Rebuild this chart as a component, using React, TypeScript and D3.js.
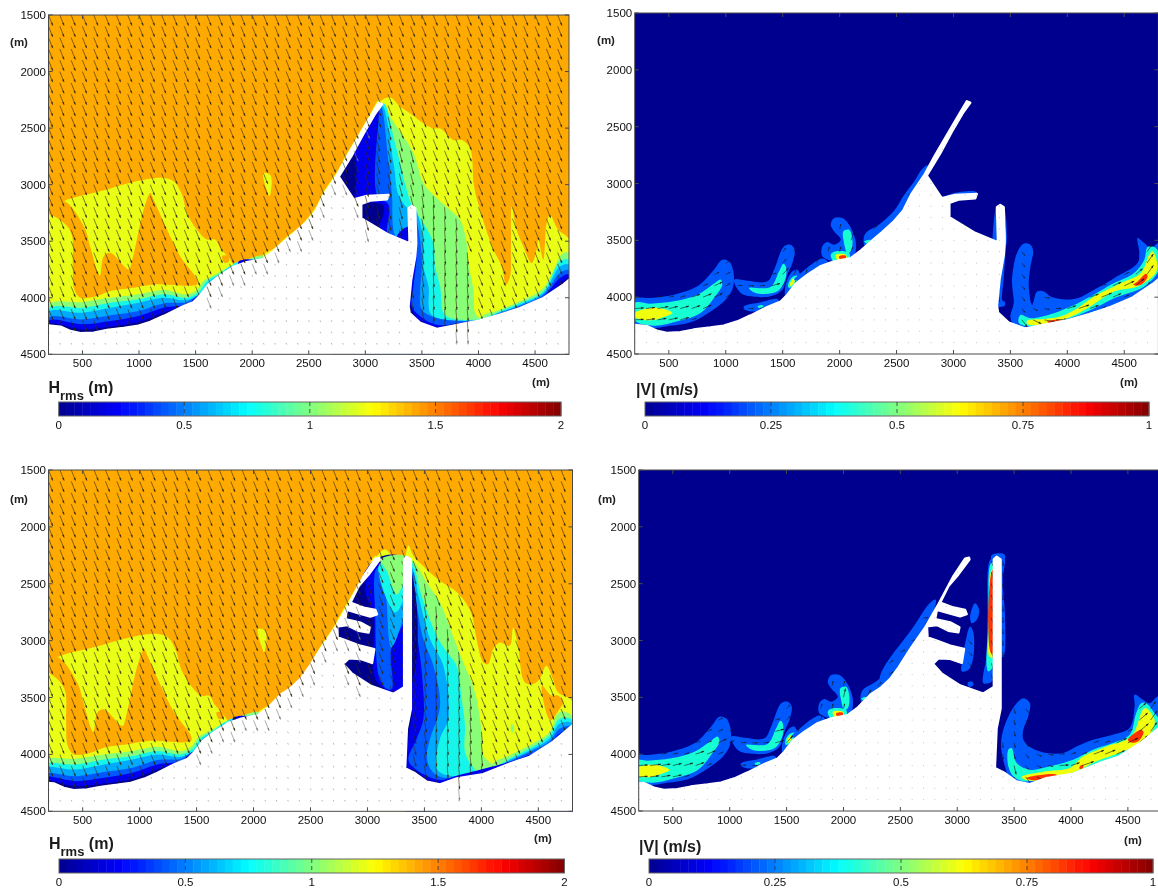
import React from "react";
import * as d3 from "d3";

type Pt = [number, number];
type Layer = [string, Pt[]];

const xTicks = [500, 1000, 1500, 2000, 2500, 3000, 3500, 4000, 4500];
const yTicks = [1500, 2000, 2500, 3000, 3500, 4000, 4500];
const hrmsTicks = [0, 0.5, 1, 1.5, 2];
const speedTicks = [0, 0.25, 0.5, 0.75, 1];
const jetStops = [0, 0.125, 0.375, 0.625, 0.875, 1];
const jetColors = ["#00008f", "#0000ff", "#00ffff", "#ffff00", "#ff0000", "#800000"];

const ORANGE = "#ffaa00";
const YELLOW = "#e9ff16";
const GREEN = "#88ff77";
const CYAN = "#19f5ea";
const SKY = "#00aaff";
const MID = "#0058ff";
const BLUE = "#0000ee";
const NAVY = "#00008f";
const V_BLUE = "#0058ff";
const V_CYAN = "#19ffd2";
const V_YELLOW = "#f0ff10";
const V_RED = "#ff3000";

// wave direction, px offset per arrow, inside the diffracted zone
const shelterX = [200, 3400, 3600, 4000, 4300, 4800];
const shelterDx = [4, 3, 0.8, 1.2, 3, 4];
// stretches of shore where wave arrows still show on the land
const shoreSpans: Pt[] = [[1550, 3000], [3780, 3900]];
// current direction along the coast, degrees on screen
const flowX = [200, 1000, 1150, 1400, 1550, 1950, 2100, 3450, 3700, 4000, 4500, 4800];
const flowDeg = [-4, -28, 5, -15, -65, -80, -70, 90, 25, -18, -25, -70];

const shift = (pts: Pt[], dx: number): Pt[] => pts.map(([x, y]) => [x + dx, y] as Pt);

// shore west of the first jetty, shared by the wave and current panels
const coastWest: Pt[] = [[200, 4245], [306, 4255], [394, 4294], [482, 4314], [600, 4308], [718, 4285], [865, 4267], [982, 4250], [1100, 4214], [1217, 4161], [1364, 4088], [1482, 4038], [1541, 3979], [1614, 3882], [1717, 3803], [1835, 3726], [1952, 3685], [2099, 3656], [2188, 3588]];

const landTop: Pt[] = [...coastWest, [2305, 3485], [2368, 3432], [2470, 3341], [2559, 3238], [2632, 3091], [2750, 2915], [2838, 2753], [2941, 2577], [3044, 2400], [3117, 2277], [3147, 2289], [3088, 2371], [2985, 2547], [2882, 2738], [2765, 2930], [2897, 3130], [3014, 3100], [3205, 3091], [3191, 3130], [3044, 3141], [2964, 3171], [2964, 3297], [3191, 3435], [3391, 3518], [3382, 3209], [3411, 3188], [3441, 3209], [3450, 3518], [3441, 3635], [3405, 3841], [3382, 4076], [3391, 4135], [3485, 4223], [3632, 4276], [3779, 4247], [4014, 4200], [4190, 4150], [4367, 4091], [4573, 4003], [4749, 3885], [4802, 3841], [4802, 4500], [200, 4500]];

const landBottom: Pt[] = [...shift(coastWest, -60), [2238, 3476], [2325, 3418], [2413, 3336], [2486, 3234], [2588, 3074], [2719, 2884], [2836, 2680], [2967, 2433], [3069, 2281], [3104, 2272], [3107, 2287], [3010, 2418], [2923, 2520], [2865, 2637], [2850, 2666], [2967, 2710], [3069, 2730], [3083, 2768], [3025, 2788], [2923, 2759], [2821, 2730], [2806, 2812], [2938, 2841], [3019, 2884], [3010, 2928], [2923, 2914], [2821, 2864], [2734, 2876], [2739, 2972], [2821, 3001], [2938, 3045], [3060, 3074], [3040, 3196], [2938, 3161], [2836, 3156], [2786, 3205], [2865, 3292], [3025, 3395], [3229, 3467], [3322, 3409], [3322, 2287], [3346, 2264], [3381, 2287], [3381, 3599], [3346, 3774], [3331, 4123], [3419, 4167], [3521, 4240], [3637, 4263], [3783, 4211], [4016, 4173], [4249, 4080], [4424, 4021], [4628, 3890], [4803, 3744], [4803, 4500], [140, 4500]];

// wave height bands west of the jetty
const westYellow: Pt[] = [[200, 3250], [335, 3147], [659, 3059], [953, 2976], [1217, 2941], [1306, 2971], [1379, 3088], [1423, 3250], [1511, 3397], [1600, 3485], [1673, 3485], [1717, 3559], [1791, 3647], [1835, 3720], [1835, 4400], [200, 4400]];
const westOrange: Pt[] = [[200, 3250], [277, 3294], [365, 3368], [409, 3456], [415, 3720], [429, 3926], [482, 4000], [629, 3985], [747, 3941], [953, 3911], [1129, 3882], [1511, 3882], [1511, 3838], [1364, 3632], [1247, 3397], [1129, 3132], [1100, 3074], [1041, 3220], [938, 3676], [909, 3750], [747, 3603], [688, 3632], [653, 3803], [571, 3559], [512, 3368], [335, 3147]];
const westSpot: Pt[] = [[1735, 3630], [1780, 3630], [1795, 3680], [1755, 3690]];
const offshorePatch: Pt[] = [[2099, 2897], [2158, 2912], [2173, 2970], [2152, 3103], [2129, 3044], [2105, 2970]];
const westGreen: Pt[] = [[200, 4058], [500, 4038], [747, 4000], [997, 3970], [1217, 3932], [1423, 3970], [1511, 3932], [1570, 3853], [1688, 3785], [1835, 3706], [1952, 3662], [2129, 3638], [2129, 4400], [200, 4400]];
const westCyan: Pt[] = [[200, 4097], [500, 4088], [747, 4044], [997, 4014], [1217, 3970], [1423, 4000], [1526, 3950], [1600, 3853], [1717, 3785], [1835, 3714], [1835, 4400], [200, 4400]];
const westSky: Pt[] = [[200, 4126], [500, 4132], [747, 4088], [997, 4044], [1217, 4000], [1423, 4020], [1541, 3961], [1614, 3861], [1717, 3794], [1835, 3726], [1835, 4400], [200, 4400]];
const westMid: Pt[] = [[200, 4176], [500, 4191], [747, 4155], [997, 4117], [1217, 4050], [1423, 4038], [1541, 3979], [1541, 4400], [200, 4400]];
const westBlue: Pt[] = [[200, 4205], [500, 4235], [747, 4205], [997, 4161], [1217, 4088], [1423, 4058], [1541, 3979], [1541, 4400], [200, 4400]];
const westNavy: Pt[] = [[200, 4235], [500, 4280], [747, 4255], [997, 4215], [1217, 4130], [1423, 4065], [1541, 3985], [1541, 4400], [200, 4400]];
const jettyYellow: Pt[] = [[2100, 3620], [2200, 3560], [2300, 3465], [2420, 3375], [2470, 3320], [2559, 3205], [2632, 3060], [2750, 2885], [2838, 2725], [2941, 2550], [3044, 2375], [3117, 2255], [3150, 2270], [3044, 2500], [2800, 2900], [2500, 3400], [2200, 3700], [2100, 3700]];
const jettyCyan: Pt[] = [[1835, 3705], [1952, 3668], [2100, 3640], [2188, 3575], [2305, 3475], [2400, 3400], [2470, 3335], [2500, 3400], [2300, 3600], [1900, 3800]];
const jettyBlue: Pt[] = [[1880, 3680], [1950, 3660], [2010, 3665], [2050, 3672], [2000, 3720], [1880, 3720]];

const westLayers: Layer[] = [[YELLOW, westYellow], [ORANGE, westOrange], [ORANGE, westSpot], [YELLOW, offshorePatch], [GREEN, westGreen], [CYAN, westCyan], [SKY, westSky], [MID, westMid], [BLUE, westBlue], [NAVY, westNavy], [CYAN, jettyCyan], [BLUE, jettyBlue]];

// wave height bands, top pair: harbour and east shore
const topYellow: Pt[] = [[3132, 2268], [3220, 2230], [3308, 2312], [3397, 2371], [3514, 2459], [3602, 2503], [3661, 2503], [3779, 2606], [3852, 2606], [3926, 2680], [3961, 3018], [4014, 3224], [4088, 3459], [4132, 3576], [4205, 3723], [4243, 3885], [4279, 3812], [4287, 3547], [4293, 3194], [4337, 3400], [4396, 3547], [4470, 3694], [4514, 3576], [4529, 3488], [4573, 3665], [4602, 3341], [4631, 3268], [4705, 3400], [4802, 3488], [4802, 4500], [3000, 4500], [3000, 2800]];
const topGreen: Pt[] = [[3161, 2283], [3220, 2400], [3338, 2577], [3426, 2724], [3514, 2988], [3602, 3091], [3749, 3224], [3838, 3312], [3896, 3518], [3911, 3694], [3955, 3929], [3970, 4135], [4014, 4194], [4014, 4400], [3000, 4400], [3000, 2800]];
const topGreenRim: Pt[] = [[4014, 4180], [4190, 4106], [4367, 4032], [4573, 3914], [4720, 3635], [4749, 3606], [4802, 3606], [4802, 4500], [4014, 4500]];
const topCyan: Pt[] = [[3161, 2283], [3264, 2636], [3411, 3179], [3514, 3341], [3602, 3518], [3617, 3723], [3661, 3900], [3691, 4135], [3749, 4179], [4014, 4188], [4190, 4120], [4367, 4047], [4573, 3944], [4720, 3679], [4802, 3665], [4802, 4500], [3000, 4500], [3000, 2800]];
const topSky: Pt[] = [[3147, 2298], [3250, 2812], [3294, 3091], [3382, 3209], [3426, 3194], [3485, 3341], [3514, 3547], [3514, 3723], [3558, 3900], [3573, 4135], [3661, 4188], [4014, 4194], [4190, 4129], [4367, 4062], [4573, 3959], [4720, 3723], [4802, 3709], [4802, 4500], [3000, 4500], [3000, 2800]];
const topMid: Pt[] = [[3132, 2298], [3206, 2812], [3235, 3091], [3264, 3453], [3367, 3547], [3441, 3547], [3441, 3282], [3470, 3400], [3500, 3665], [3485, 3959], [3500, 4106], [3632, 4179], [4014, 4197], [4190, 4135], [4367, 4070], [4573, 3973], [4720, 3782], [4802, 3759], [4802, 4500], [3000, 4500], [3000, 2800]];
const topBlue: Pt[] = [[3117, 2312], [3103, 3091], [3206, 3180], [3191, 3426], [3220, 3488], [3426, 3547], [3450, 3576], [3426, 3900], [3411, 4076], [3485, 4164], [3632, 4238], [4014, 4200], [4190, 4141], [4367, 4082], [4573, 3988], [4720, 3826], [4802, 3797], [4802, 4500], [2700, 4500], [2760, 2930], [2875, 2735], [2975, 2545], [3095, 2350]];
const topBluePatch: Pt[] = [[3294, 3429], [3391, 3371], [3411, 3547], [3279, 3488]];
const topNavyWedge: Pt[] = [[2765, 2930], [2903, 2739], [2891, 3121]];
const topNavyBasin: Pt[] = [[2964, 3171], [3161, 3188], [3103, 3371], [2985, 3312]];
const topNavyRim: Pt[] = [[3382, 4017], [3411, 4106], [3485, 4208], [3632, 4258], [3779, 4229], [4014, 4198], [4190, 4144], [4367, 4088], [4573, 3994], [4749, 3856], [4802, 3817], [4802, 4500], [3382, 4500]];

const hrmsTop: Layer[] = [...westLayers, [YELLOW, jettyYellow], [YELLOW, topYellow], [GREEN, topGreen], [GREEN, topGreenRim], [CYAN, topCyan], [SKY, topSky], [MID, topMid], [BLUE, topBlue], [BLUE, topBluePatch], [NAVY, topNavyWedge], [NAVY, topNavyBasin], [NAVY, topNavyRim]];

// wave height bands, bottom pair: longer breakwater and groynes
const botYellow: Pt[] = [[3069, 2281], [3156, 2199], [3214, 2258], [3287, 2331], [3331, 2258], [3360, 2164], [3404, 2258], [3491, 2345], [3637, 2476], [3754, 2549], [3841, 2637], [3914, 2768], [3958, 2987], [4016, 3191], [4060, 3205], [4104, 3074], [4162, 3016], [4249, 3045], [4279, 2884], [4322, 3045], [4381, 3365], [4454, 3380], [4512, 3336], [4570, 3220], [4628, 3336], [4672, 3453], [4803, 3540], [4803, 4500], [3000, 4500], [3000, 2800]];
const botOrangeFinger: Pt[] = [[4532, 3395], [4605, 3701], [4687, 3599], [4722, 3540], [4672, 3482], [4614, 3482]];
const botGreen: Pt[] = [[3389, 2287], [3521, 2491], [3637, 2666], [3739, 2928], [3841, 3191], [3944, 3453], [4002, 3803], [4016, 4007], [4089, 4094], [4089, 4500], [3340, 4500], [3340, 2287]];
const botGreenRim: Pt[] = [[4089, 4094], [4249, 4007], [4424, 3919], [4599, 3803], [4657, 3657], [4710, 3622], [4803, 3672], [4803, 4500], [4089, 4500]];
const botGreenSpot: Pt[] = [[4262, 3740], [4280, 3740], [4285, 3800], [4265, 3805]];
const botCyan: Pt[] = [[3389, 2316], [3477, 2608], [3608, 2957], [3710, 3118], [3783, 3220], [3827, 3511], [3856, 3744], [3856, 3978], [3914, 4094], [3987, 4167], [4104, 4123], [4249, 4036], [4424, 3948], [4599, 3832], [4687, 3686], [4803, 3701], [4803, 4500], [3340, 4500], [3340, 2316]];
const botSky: Pt[] = [[3389, 2360], [3448, 2608], [3550, 2987], [3666, 3220], [3710, 3686], [3637, 3861], [3608, 4123], [3696, 4182], [3987, 4176], [4249, 4050], [4424, 3966], [4599, 3861], [4687, 3730], [4803, 3730], [4803, 4500], [3340, 4500], [3340, 2360]];
const botMid: Pt[] = [[3389, 2404], [3419, 2608], [3491, 2987], [3579, 3220], [3637, 3570], [3550, 3861], [3521, 4007], [3550, 4123], [3637, 4196], [3987, 4182], [4249, 4059], [4424, 3978], [4599, 3884], [4687, 3774], [4803, 3759], [4803, 4500], [3340, 4500], [3340, 2404]];
const botBlue: Pt[] = [[3384, 2695], [3439, 2987], [3477, 3278], [3491, 3686], [3433, 3861], [3360, 4051], [3433, 4138], [3521, 4188], [3637, 4225], [3783, 4187], [4249, 4065], [4424, 4001], [4599, 3914], [4687, 3817], [4803, 3788], [4803, 4500], [3340, 4500], [3340, 2695]];
const botNavyRim: Pt[] = [[3381, 3599], [3360, 3861], [3346, 4109], [3433, 4147], [3521, 4217], [3637, 4249], [3783, 4205], [4016, 4167], [4249, 4071], [4424, 4013], [4599, 3934], [4716, 3817], [4803, 3774], [4803, 4500], [3320, 4500], [3320, 3599]];
const basinNavy: Pt[] = [[2725, 3500], [2725, 2880], [2800, 2790], [2880, 2600], [3075, 2280], [3331, 2280], [3331, 3500]];
const basinBlue: Pt[] = [[3078, 2316], [2981, 2549], [3054, 2783], [3054, 3278], [3098, 3380], [3244, 3467], [3331, 3409], [3331, 2549]];
const basinMid: Pt[] = [[3089, 2360], [3069, 2783], [3107, 3336], [3171, 3424], [3215, 3424], [3209, 3074], [3331, 2797], [3331, 2549]];
const basinSky: Pt[] = [[3098, 2345], [3156, 2549], [3209, 3059], [3331, 2710], [3331, 2287]];
const basinCyan: Pt[] = [[3104, 2331], [3244, 2753], [3331, 2578], [3331, 2287]];
const basinGreen: Pt[] = [[3113, 2287], [3171, 2389], [3258, 2593], [3331, 2433], [3331, 2258]];

const hrmsBottom: Layer[] = [...westLayers.map(([c, p]) => [c, shift(p, -60)] as Layer), [YELLOW, shift(jettyYellow, -50)], [YELLOW, botYellow], [ORANGE, botOrangeFinger], [GREEN, botGreen], [GREEN, botGreenRim], [GREEN, botGreenSpot], [CYAN, botCyan], [SKY, botSky], [MID, botMid], [BLUE, botBlue], [NAVY, botNavyRim], [NAVY, basinNavy], [BLUE, basinBlue], [MID, basinMid], [SKY, basinSky], [CYAN, basinCyan], [GREEN, basinGreen]];

// current speed blobs west of the jetty
const lobeBig: Pt[] = [[200, 4016], [340, 4007], [545, 3978], [750, 3905], [896, 3758], [969, 3670], [1028, 3685], [1063, 3758], [1072, 3846], [1057, 3934], [999, 4022], [867, 4125], [691, 4221], [486, 4256], [369, 4271], [200, 4242]];
const lobeBend: Pt[] = [[1072, 3846], [1189, 3855], [1365, 3861], [1424, 3758], [1512, 3553], [1570, 3539], [1605, 3583], [1585, 3700], [1541, 3802], [1497, 3934], [1394, 3993], [1219, 3993], [1131, 3963]];
const lobeLow: Pt[] = [[1160, 4081], [1306, 4045], [1453, 4016], [1468, 4037], [1365, 4110], [1219, 4125], [1160, 4104]];
const lobeLowCyan: Pt[] = [[1280, 4080], [1320, 4070], [1330, 4085], [1290, 4095]];
const bigCyan: Pt[] = [[200, 4051], [340, 4057], [545, 4037], [750, 3978], [911, 3870], [955, 3846], [969, 3890], [896, 4007], [779, 4139], [574, 4212], [369, 4251], [200, 4204]];
const bigYellow: Pt[] = [[200, 4139], [340, 4095], [457, 4104], [530, 4139], [457, 4174], [340, 4204], [200, 4174]];
const bendCyan: Pt[] = [[1204, 3919], [1394, 3911], [1468, 3773], [1506, 3706], [1526, 3729], [1526, 3832], [1453, 3949], [1262, 3963]];
const knobBlue: Pt[] = [[1526, 3890], [1585, 3773], [1629, 3758], [1652, 3817], [1585, 3949], [1526, 3993]];
const knobCyan: Pt[] = [[1547, 3890], [1585, 3823], [1629, 3811], [1614, 3876], [1555, 3919]];
const knobYellow: Pt[] = [[1564, 3881], [1599, 3832], [1605, 3861], [1570, 3905]];
const shoreBlue: Pt[] = [[1600, 3850], [1680, 3770], [1850, 3660], [1900, 3700], [1700, 3830]];
const hookBlue: Pt[] = [[1922, 3363], [1951, 3304], [2024, 3304], [2083, 3363], [2141, 3509], [2127, 3641], [2083, 3670], [1951, 3685], [1848, 3641], [1848, 3553], [1892, 3515], [1951, 3539], [2010, 3495], [1951, 3421]];
const hookCyanA: Pt[] = [[2033, 3421], [2083, 3407], [2112, 3495], [2098, 3597], [2068, 3612], [2039, 3524]];
const hookCyanB: Pt[] = [[1922, 3626], [1966, 3597], [2083, 3612], [2083, 3670], [1951, 3685]];
const hookYellow: Pt[] = [[1966, 3626], [2054, 3626], [2062, 3665], [1980, 3670]];
const hookRed: Pt[] = [[1995, 3641], [2054, 3635], [2054, 3659], [2001, 3662]];
const rimBlue: Pt[] = [[2215, 3465], [2244, 3421], [2347, 3360], [2478, 3240], [2560, 3110], [2650, 2990], [2720, 2880], [2770, 2840], [2785, 2900], [2700, 3000], [2550, 3250], [2400, 3440], [2250, 3560], [2215, 3540]];
const rimCyan: Pt[] = [[2215, 3509], [2273, 3495], [2244, 3530]];

const westSpeed: Layer[] = [[V_BLUE, lobeBig], [V_BLUE, lobeBend], [V_BLUE, lobeLow], [V_CYAN, lobeLowCyan], [V_CYAN, bigCyan], [V_YELLOW, bigYellow], [V_CYAN, bendCyan], [V_BLUE, knobBlue], [V_CYAN, knobCyan], [V_YELLOW, knobYellow], [V_BLUE, shoreBlue], [V_BLUE, hookBlue], [V_CYAN, hookCyanA], [V_CYAN, hookCyanB], [V_YELLOW, hookYellow], [V_RED, hookRed]];

// current speed, top right panel
const topL: Pt[] = [[3514, 3847], [3558, 3612], [3617, 3530], [3676, 3539], [3700, 3597], [3676, 3730], [3661, 3906], [3691, 4068], [3735, 3950], [3794, 3950], [3852, 3994], [3955, 4018], [4088, 4009], [4235, 3935], [4411, 3833], [4617, 3700], [4632, 3612], [4617, 3480], [4676, 3524], [4735, 3568], [4802, 3524], [4805, 3847], [4705, 3950], [4470, 4068], [4264, 4127], [4000, 4200], [3705, 4274], [3617, 4282], [3529, 4244], [3500, 4171], [3529, 4053]];
const topLCyan: Pt[] = [[3588, 4156], [3676, 4185], [3882, 4141], [4029, 4082], [4176, 4009], [4382, 3891], [4587, 3788], [4676, 3671], [4705, 3559], [4764, 3559], [4805, 3612], [4805, 3759], [4676, 3906], [4411, 4009], [4205, 4112], [3970, 4200], [3647, 4253], [3573, 4224]];
const topLYellow: Pt[] = [[3647, 4206], [3794, 4191], [3955, 4165], [4088, 4097], [4235, 3994], [4470, 3877], [4646, 3788], [4720, 3627], [4749, 3597], [4793, 3730], [4764, 3803], [4617, 3906], [4411, 3950], [4176, 4097], [4000, 4185], [3735, 4244], [3647, 4235]];
const topLRedA: Pt[] = [[4617, 3862], [4690, 3794], [4705, 3818], [4646, 3891], [4579, 3891]];
const topLRedB: Pt[] = [[3823, 4215], [3941, 4200], [3941, 4221], [3838, 4229]];
const topPierBlue: Pt[] = [[3411, 3190], [3440, 3200], [3470, 3465], [3460, 3583], [3440, 3850], [3430, 4030], [3450, 4040], [3450, 4075], [3380, 4075], [3380, 3200]];
const topPierCyan: Pt[] = [[3440, 3310], [3460, 3450], [3455, 3500], [3445, 3500]];
const topBarBlue: Pt[] = [[2880, 3135], [3000, 3085], [3190, 3070], [3210, 3090], [3000, 3110]];

const speedTop: Layer[] = [...westSpeed, [V_BLUE, rimBlue], [V_CYAN, rimCyan], [V_BLUE, topL], [V_CYAN, topLCyan], [V_YELLOW, topLYellow], [V_RED, topLRedA], [V_RED, topLRedB], [V_BLUE, topPierBlue], [V_CYAN, topPierCyan], [V_BLUE, topBarBlue]];

// current speed, bottom right panel
const botL: Pt[] = [[3391, 3990], [3391, 3844], [3449, 3668], [3522, 3551], [3581, 3507], [3639, 3551], [3624, 3668], [3581, 3785], [3581, 3873], [3654, 3946], [3785, 3990], [3931, 3990], [4048, 3932], [4194, 3873], [4369, 3829], [4515, 3770], [4559, 3580], [4559, 3477], [4632, 3521], [4690, 3551], [4760, 3492], [4803, 3480], [4803, 3780], [4760, 3844], [4690, 3946], [4486, 4034], [4223, 4137], [4019, 4195], [3785, 4239], [3610, 4277], [3522, 4254], [3449, 4195], [3420, 4107]];
const botLCyan: Pt[] = [[3449, 3961], [3478, 3946], [3522, 4078], [3639, 4137], [3814, 4107], [4019, 4049], [4194, 3961], [4369, 3902], [4515, 3829], [4573, 3639], [4617, 3551], [4661, 3551], [4760, 3668], [4803, 3700], [4803, 3780], [4760, 3785], [4661, 3902], [4486, 3990], [4223, 4107], [4019, 4166], [3785, 4210], [3581, 4239], [3493, 4195], [3449, 4107]];
const botLYellow: Pt[] = [[3566, 4201], [3785, 4151], [3989, 4122], [4106, 4020], [4311, 3932], [4530, 3844], [4632, 3609], [4661, 3595], [4734, 3697], [4719, 3785], [4632, 3888], [4457, 3976], [4223, 4063], [4048, 4151], [3843, 4210], [3610, 4230]];
const botLRedA: Pt[] = [[3610, 4210], [3873, 4181], [3873, 4210], [3639, 4225]];
const botLRedB: Pt[] = [[4500, 3873], [4617, 3785], [4638, 3809], [4588, 3888], [4521, 3896]];
const botLRedC: Pt[] = [[4077, 4107], [4106, 4093], [4106, 4122], [4077, 4131]];
const pierBlue: Pt[] = [[3330, 2276], [3289, 2291], [3265, 2818], [3254, 3170], [3230, 3287], [3230, 3375], [3303, 3360], [3330, 3199]];
const pierCyan: Pt[] = [[3330, 2320], [3297, 2320], [3274, 2848], [3259, 3228], [3274, 3272], [3330, 3199]];
const pierYellow: Pt[] = [[3330, 2379], [3303, 2379], [3283, 2877], [3283, 3141], [3330, 3146]];
const pierRed: Pt[] = [[3330, 2379], [3309, 2379], [3297, 3111], [3330, 3111]];
const pierEast: Pt[] = [[3376, 2262], [3411, 2262], [3420, 2291], [3400, 2467], [3420, 2789], [3405, 3141], [3375, 3141]];
const pierCap: Pt[] = [[3303, 2247], [3411, 2238], [3420, 2276], [3303, 2291]];
const basinBlobA: Pt[] = [[3113, 2789], [3157, 2672], [3192, 2730], [3172, 2818], [3128, 2848]];
const basinBlobB: Pt[] = [[3070, 3023], [3113, 2877], [3143, 2935], [3137, 3170], [3099, 3258], [3040, 3272], [3040, 3199]];
const basinBlobC: Pt[] = [[3090, 3375], [3128, 3360], [3143, 3390], [3108, 3410]];
const botRim: Pt[] = [[2325, 3302], [2617, 2877], [2760, 2670], [2810, 2640], [2800, 2720], [2700, 2880], [2588, 3020], [2383, 3400], [2325, 3450]];

const speedBottom: Layer[] = [...westSpeed.map(([c, p]) => [c, shift(p, -60)] as Layer), [V_BLUE, shift(rimBlue, -60)], [V_CYAN, shift(rimCyan, -60)], [V_BLUE, botRim], [V_BLUE, botL], [V_CYAN, botLCyan], [V_YELLOW, botLYellow], [V_RED, botLRedA], [V_RED, botLRedB], [V_RED, botLRedC], [V_BLUE, pierBlue], [V_CYAN, pierCyan], [V_YELLOW, pierYellow], [V_RED, pierRed], [V_BLUE, pierEast], [V_BLUE, pierCap], [V_BLUE, basinBlobA], [V_BLUE, basinBlobB], [V_BLUE, basinBlobC]];

const flowLength: Record<string, number> = { [V_BLUE]: 5, [V_CYAN]: 9, [V_YELLOW]: 11, [V_RED]: 12 };

const jet = d3.scaleLinear<string>().domain(jetStops).range(jetColors).interpolate(d3.interpolateRgb);
const FONT = "'Liberation Sans', Arial, sans-serif";
const gridX = d3.range(200, 4801, 100);
const gridY = d3.range(1500, 4501, 100);

function Arrow({ x, y, dx, dy, color }: { x: number; y: number; dx: number; dy: number; color: string }) {
  const len = Math.hypot(dx, dy) || 1;
  const ux = dx / len;
  const uy = dy / len;
  const hx = x + dx;
  const hy = y + dy;
  const s = Math.min(2.6, len * 0.3);
  const head = `M${hx - ux * s - uy * s * 0.3},${hy - uy * s + ux * s * 0.3}L${hx},${hy}L${hx - ux * s + uy * s * 0.3},${hy - uy * s - ux * s * 0.3}Z`;
  return (
    <g stroke={color} fill={color}>
      <line x1={x} y1={y} x2={hx} y2={hy} strokeWidth={0.6} />
      <path d={head} strokeWidth={0.2} />
    </g>
  );
}

interface PanelProps {
  id: string;
  x0: number;
  x1: number;
  y0: number;
  y1: number;
  bg: string;
  layers: Layer[];
  land: Pt[];
  mode: "wave" | "flow";
  shelter?: Pt[][];
  shoreDx?: number;
  yUnit: [number, number];
  xUnit: [number, number];
}

function Panel({ id, x0, x1, y0, y1, bg, layers, land, mode, shelter, shoreDx = 0, yUnit, xUnit }: PanelProps) {
  const x = d3.scaleLinear().domain([200, 4800]).range([x0, x1]);
  const y = d3.scaleLinear().domain([1500, 4500]).range([y0, y1]);
  const line = d3.line<Pt>().x((d) => x(d[0])).y((d) => y(d[1]));
  const smooth = d3.line<Pt>().x((d) => x(d[0])).y((d) => y(d[1])).curve(d3.curveCatmullRomClosed.alpha(0.5));
  const waveDx = d3.scaleLinear().domain(shelterX).range(shelterDx);
  const flowAngle = d3.scaleLinear().domain(flowX).range(flowDeg);

  // arrows in "under" stop at the shore, the rest are drawn over the land
  const under: React.ReactNode[] = [];
  const marks: React.ReactNode[] = [];
  gridX.forEach((gx) =>
    gridY.forEach((gy) => {
      const key = `${gx}-${gy}`;
      const onLand = d3.polygonContains(land, [gx, gy]);
      if (mode === "wave") {
        const inSpan = shoreSpans.some(([a, b]) => gx >= a + shoreDx && gx <= b + shoreDx);
        const near = onLand && !d3.polygonContains(land, [gx, gy - 100]) && inSpan;
        if (onLand && !near) {
          marks.push(<line key={key} x1={x(gx)} y1={y(gy)} x2={x(gx) + 0.6} y2={y(gy) + 1.6} stroke="#b8b8b8" strokeWidth={1} />);
          return;
        }
        const inShelter = (shelter ?? []).some((p) => d3.polygonContains(p, [gx, gy]));
        const dx = inShelter ? waveDx(gx) : 4.2;
        const arrow = <Arrow key={key} x={x(gx)} y={y(gy)} dx={dx} dy={inShelter ? 12 : 10.5} color={near ? "#777" : "#33280f"} />;
        (inSpan ? marks : under).push(arrow);
      } else {
        if (onLand) {
          marks.push(<line key={key} x1={x(gx)} y1={y(gy)} x2={x(gx) + 0.8} y2={y(gy)} stroke="#b8b8b8" strokeWidth={1} />);
          return;
        }
        const hit = layers.filter((l) => d3.polygonContains(l[1], [gx, gy])).pop();
        if (!hit) return;
        const len = flowLength[hit[0]];
        const a = (flowAngle(gx) * Math.PI) / 180;
        under.push(<Arrow key={key} x={x(gx)} y={y(gy)} dx={Math.cos(a) * len} dy={Math.sin(a) * len} color="#1a1a1a" />);
      }
    })
  );

  return (
    <g>
      <clipPath id={id}>
        <rect x={x0} y={y0} width={x1 - x0} height={y1 - y0} />
      </clipPath>
      <g clipPath={`url(#${id})`}>
        <rect x={x0} y={y0} width={x1 - x0} height={y1 - y0} fill={bg} />
        {layers.map(([color, pts], i) => (
          <path key={i} d={smooth(pts) ?? ""} fill={color} />
        ))}
        {under}
        <path d={line(land) + "Z"} fill="#fff" stroke="#fff" strokeWidth={2.4} strokeLinejoin="round" />
        {marks}
      </g>
      <rect x={x0} y={y0} width={x1 - x0} height={y1 - y0} fill="none" stroke="#4a4a4a" strokeWidth={1} />
      {xTicks.map((t) => (
        <g key={t}>
          <line x1={x(t)} x2={x(t)} y1={y1} y2={y1 - 4} stroke="#4a4a4a" />
          <line x1={x(t)} x2={x(t)} y1={y0} y2={y0 + 4} stroke="#4a4a4a" />
          <text x={x(t)} y={y1 + 13} textAnchor="middle" fontSize={11.5} fill="#111" fontFamily={FONT}>
            {t}
          </text>
        </g>
      ))}
      {yTicks.map((t) => (
        <g key={t}>
          <line x1={x0} x2={x0 + 4} y1={y(t)} y2={y(t)} stroke="#4a4a4a" />
          <line x1={x1} x2={x1 - 4} y1={y(t)} y2={y(t)} stroke="#4a4a4a" />
          <text x={x0 - 2.5} y={y(t) + 4} textAnchor="end" fontSize={11.5} fill="#111" fontFamily={FONT}>
            {t}
          </text>
        </g>
      ))}
      <text x={yUnit[0]} y={yUnit[1]} textAnchor="middle" fontSize={11.5} fontWeight="bold" fill="#222" fontFamily={FONT}>
        (m)
      </text>
      <text x={xUnit[0]} y={xUnit[1]} textAnchor="middle" fontSize={11.5} fontWeight="bold" fill="#222" fontFamily={FONT}>
        (m)
      </text>
    </g>
  );
}

function ColorBar({ x0, x1, y0, y1, ticks }: { x0: number; x1: number; y0: number; y1: number; ticks: number[] }) {
  const max = ticks[ticks.length - 1];
  const x = d3.scaleLinear().domain([0, max]).range([x0, x1]);
  const steps = d3.range(64);
  const w = (x1 - x0) / 64;
  return (
    <g>
      {steps.map((i) => (
        <rect key={i} x={x0 + i * w} y={y0} width={w + 0.4} height={y1 - y0} fill={jet((i + 0.5) / 64)} />
      ))}
      <rect x={x0} y={y0} width={x1 - x0} height={y1 - y0} fill="none" stroke="#666" />
      {ticks.map((t) => (
        <g key={t}>
          {t > 0 && t < max && <line x1={x(t)} x2={x(t)} y1={y0} y2={y1} stroke="#333" strokeDasharray="4 3" strokeWidth={0.8} />}
          <text x={x(t)} y={y1 + 13} textAnchor="middle" fontSize={11.5} fill="#111" fontFamily={FONT}>
            {t}
          </text>
        </g>
      ))}
    </g>
  );
}

function HrmsTitle({ x, y }: { x: number; y: number }) {
  return (
    <text x={x} y={y} fontSize={16} fontWeight="bold" fill="#1a1a1a" fontFamily={FONT}>
      H
      <tspan dy={7} fontSize={13}>
        rms
      </tspan>
      <tspan dy={-7}> (m)</tspan>
    </text>
  );
}

function SpeedTitle({ x, y }: { x: number; y: number }) {
  return (
    <text x={x} y={y} fontSize={16} fontWeight="bold" fill="#1a1a1a" fontFamily={FONT}>
      |V| (m/s)
    </text>
  );
}

export default function App() {
  return (
    <svg width={1158} height={893} style={{ position: "absolute", left: 0, top: 0, display: "block" }}>
      <defs>
        <filter id="soft" x="0" y="0" width="100%" height="100%">
          <feGaussianBlur stdDeviation={0.4} />
        </filter>
      </defs>
      <rect width={1158} height={893} fill="#fff" />
      <g filter="url(#soft)">
        <Panel id="pa" x0={48.5} x1={569} y0={15} y1={354.3} bg={ORANGE} layers={hrmsTop} land={landTop} mode="wave" shelter={[topGreen]} yUnit={[19, 46]} xUnit={[541, 386]} />
        <Panel id="pb" x0={634.7} x1={1158.4} y0={13} y1={354} bg={NAVY} layers={speedTop} land={landTop} mode="flow" yUnit={[606, 44]} xUnit={[1129, 386]} />
        <Panel id="pc" x0={48.5} x1={572.5} y0={470} y1={811.3} bg={ORANGE} layers={hrmsBottom} land={landBottom} mode="wave" shelter={[botGreen]} shoreDx={-60} yUnit={[19, 503]} xUnit={[543, 842]} />
        <Panel id="pd" x0={638.7} x1={1162} y0={470} y1={811} bg={NAVY} layers={speedBottom} land={landBottom} mode="flow" yUnit={[607, 503]} xUnit={[1133, 844]} />

        <HrmsTitle x={48.5} y={393} />
        <ColorBar x0={58.7} x1={561} y0={402} y1={416} ticks={hrmsTicks} />
        <SpeedTitle x={636} y={395} />
        <ColorBar x0={645} x1={1149} y0={402} y1={416} ticks={speedTicks} />
        <HrmsTitle x={49} y={849} />
        <ColorBar x0={59} x1={564.5} y0={859} y1={873} ticks={hrmsTicks} />
        <SpeedTitle x={639} y={852} />
        <ColorBar x0={649} x1={1153} y0={859} y1={873} ticks={speedTicks} />
      </g>
    </svg>
  );
}
